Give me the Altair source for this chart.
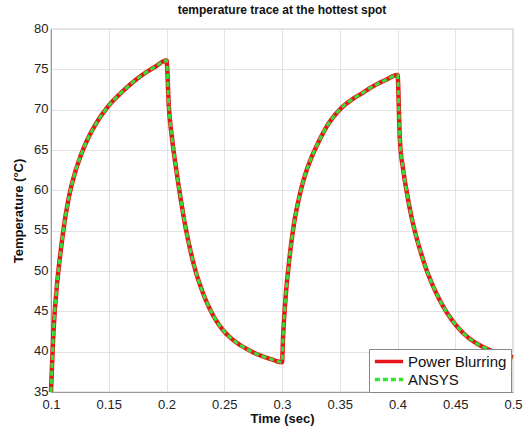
import altair as alt
import pandas as pd

# time (sec)
t = [0.1, 0.102, 0.105, 0.108, 0.112, 0.116, 0.12, 0.125, 0.13, 0.14, 0.15, 0.16, 0.17, 0.18, 0.19, 0.2,
     0.202, 0.205, 0.208, 0.212, 0.216, 0.22, 0.225, 0.23, 0.24, 0.25, 0.26, 0.27, 0.28, 0.29, 0.3,
     0.301, 0.303, 0.306, 0.31, 0.315, 0.32, 0.325, 0.33, 0.34, 0.35, 0.36, 0.37, 0.38, 0.39, 0.4,
     0.402, 0.405, 0.408, 0.412, 0.416, 0.42, 0.425, 0.43, 0.44, 0.45, 0.46, 0.47, 0.48, 0.49, 0.5]

power_blurring = [35, 42, 48, 52, 56.3, 59.5, 61.8, 64.0, 65.8, 68.5, 70.5, 72.0, 73.3, 74.4, 75.3, 76.1,
                  70.5, 66.2, 63.0, 59.2, 55.8, 53.0, 50.1, 47.9, 44.6, 42.5, 41.2, 40.3, 39.6, 39.1, 38.7,
                  42, 46.5, 51, 55.5, 59.2, 61.9, 63.9, 65.5, 68.2, 70.0, 71.2, 72.1, 73.0, 73.7, 74.3,
                  66.5, 62.5, 59.8, 56.8, 54.4, 52.4, 50.2, 48.4, 45.5, 43.4, 41.9, 40.9, 40.2, 39.7, 39.3]

ansys = [35, 42, 48, 52, 56.3, 59.5, 61.8, 64.0, 65.8, 68.5, 70.5, 72.0, 73.3, 74.4, 75.3, 76.1,
         70.5, 66.2, 63.0, 59.2, 55.8, 53.0, 50.1, 47.9, 44.6, 42.5, 41.2, 40.3, 39.6, 39.1, 38.7,
         42, 46.5, 51, 55.5, 59.2, 61.9, 63.9, 65.5, 68.2, 70.0, 71.2, 72.1, 73.0, 73.7, 74.3,
         66.5, 62.5, 59.8, 56.8, 54.4, 52.4, 50.2, 48.4, 45.5, 43.4, 41.9, 40.9, 40.2, 39.7, 39.3]

series_names = ["Power Blurring", "ANSYS"]
series_colors = ["#e8141b", "#33e033"]

x_ticks = [0.1, 0.15, 0.2, 0.25, 0.3, 0.35, 0.4, 0.45, 0.5]
y_ticks = [35, 40, 45, 50, 55, 60, 65, 70, 75, 80]

df = pd.concat([
    pd.DataFrame({"t": t, "T": power_blurring, "series": series_names[0]}),
    pd.DataFrame({"t": t, "T": ansys, "series": series_names[1]}),
])

FONT = "Liberation Sans"

x_enc = alt.X("t:Q", scale=alt.Scale(domain=[0.1, 0.5], nice=False, zero=False),
              axis=alt.Axis(values=x_ticks, format="~g", title="Time (sec)", labelFlush=False,
                            labelPadding=6))
y_enc = alt.Y("T:Q", scale=alt.Scale(domain=[35, 80], nice=False, zero=False),
              axis=alt.Axis(values=y_ticks, title="Temperature (\u00b0C)", labelFlush=False,
                            labelOffset=-1))
color_enc = alt.Color("series:N", scale=alt.Scale(domain=series_names, range=series_colors),
                      legend=alt.Legend(title=None, orient="none", legendX=318, legendY=320,
                                        symbolType="stroke", symbolStrokeWidth=3.5, symbolSize=800,
                                        clipHeight=17,
                                        labelFontSize=15, labelFont=FONT, labelColor="#111",
                                        fillColor="white", strokeColor="#888", padding=4,
                                        rowPadding=1, labelOffset=3))
dash_enc = alt.StrokeDash("series:N", scale=alt.Scale(domain=series_names, range=[[1, 0], [5, 3]]),
                          legend=alt.Legend(title=None))

base = alt.Chart(df).encode(x=x_enc, y=y_enc, color=color_enc, strokeDash=dash_enc, order=alt.Order("t:Q"))

red = base.transform_filter(alt.datum.series == series_names[0]).mark_line(strokeWidth=4.5, interpolate="monotone")
green = base.transform_filter(alt.datum.series == series_names[1]).mark_line(strokeWidth=3, interpolate="monotone")

chart = alt.layer(red, green).properties(
    width=462, height=363,
    title=alt.TitleParams("temperature trace at the hottest spot", font=FONT, fontSize=12,
                          fontWeight="bold", color="#111", anchor="middle", offset=5),
    autosize=alt.AutoSizeParams(type="none"),
    padding={"left": 51, "top": 29, "right": 11, "bottom": 39},
).configure_view(stroke="#9a9a9a", strokeWidth=1.2).configure_axis(
    labelFont=FONT, labelFontSize=13, labelColor="#222", titleFont=FONT, titleFontSize=13,
    titleFontWeight="bold", titleColor="#111", gridColor="#e2e2e2", gridWidth=1,
    domainColor="#9a9a9a", ticks=False,
).configure_axisX(titlePadding=1).configure_axisY(titlePadding=8, labelPadding=3)

chart.save("out.html", embed_options={"renderer": "svg", "actions": False})
